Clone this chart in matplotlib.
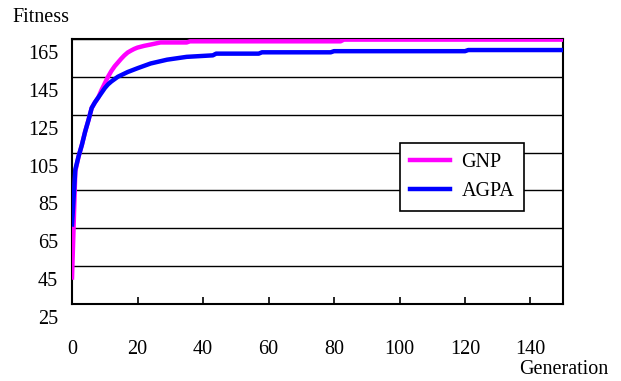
import matplotlib

matplotlib.use("Agg")
import matplotlib.pyplot as plt
import matplotlib.transforms as mtransforms

# values
gnp_gen = [0, 1, 2, 3, 4, 5, 6, 7, 8, 9, 10, 11, 12, 13, 14, 15, 16, 17, 18,
           19, 20, 22, 24, 27, 35, 36, 82, 83, 150]
gnp_fit = [39, 95, 103, 109, 116, 122, 128.5, 131.5, 134, 138, 141.5, 145,
           148, 150.5, 152.5, 154.5, 156.3, 157.8, 158.8, 159.7, 160.4, 161.3,
           162, 163.1, 163.1, 163.7, 163.7, 164.6, 164.6]

agpa_gen = [0, 1, 2, 3, 4, 5, 6, 7, 8, 9, 10, 11, 12, 14, 17, 20, 24, 29, 35,
            43, 44, 57, 58, 79, 80, 120, 121, 150]
agpa_fit = [67, 96, 103, 109, 116, 122, 128.5, 131.5, 134, 136.5, 139, 141,
            142.5, 145, 147.5, 149.5, 152, 154, 155.5, 156.3, 157.2, 157.2,
            157.9, 157.9, 158.5, 158.5, 159.1, 159.1]

y_ticks = [25, 45, 65, 85, 105, 125, 145, 165]
x_ticks = [0, 20, 40, 60, 80, 100, 120, 140]

plt.rcParams["font.family"] = ["Liberation Serif", "DejaVu Serif"]
FS = 14.5

fig = plt.figure(figsize=(6.21, 3.81), dpi=100)
ax = fig.add_axes([0.116, 0.202, 0.791, 0.696])

ax.plot(gnp_gen, gnp_fit, color="#ff00ff", lw=3.2, label="GNP", zorder=3)
ax.plot(agpa_gen, agpa_fit, color="#0000ff", lw=3.2, label="AGPA", zorder=4)

ax.set_xlim(0, 150)
ax.set_ylim(25, 165)
ax.set_yticks(y_ticks)
ax.set_xticks(x_ticks)
ax.grid(axis="y", color="black", lw=1.0)
ax.set_axisbelow(True)

for sp in ax.spines.values():
    sp.set_linewidth(1.5)
    sp.set_color("black")

ax.tick_params(axis="y", length=0, pad=10, labelsize=FS)
ax.tick_params(axis="x", direction="in", length=5, width=1.2, pad=26,
               labelsize=FS)

# y labels sit a little below their gridlines in the original
shift = mtransforms.ScaledTranslation(0, -13 / 100, fig.dpi_scale_trans)
for lab in ax.get_yticklabels():
    lab.set_transform(lab.get_transform() + shift)

fig.text(12 / 621, 1 - 17 / 381, "Fitness", fontsize=FS, va="center",
         ha="left")
fig.text(608 / 621, 1 - 370 / 381, "Generation", fontsize=FS, va="center",
         ha="right")

leg = ax.legend(loc="upper left", bbox_to_anchor=(400 / 621, 1 - 143 / 381),
                bbox_transform=fig.transFigure, fontsize=FS, frameon=True,
                fancybox=False, framealpha=1, edgecolor="black",
                handlelength=2.0, handletextpad=0.55, labelspacing=0.5,
                borderpad=0.5, borderaxespad=0)
leg.get_frame().set_linewidth(1.2)

fig.savefig("out.png", dpi=100)
